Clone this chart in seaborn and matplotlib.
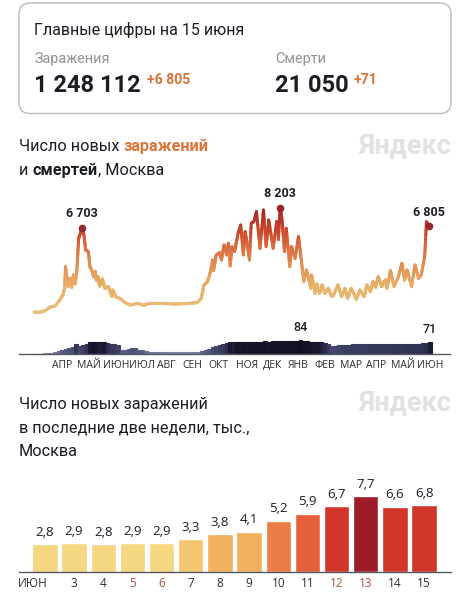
import numpy as np
import pandas as pd
import seaborn as sns
import matplotlib
matplotlib.use("Agg")
import matplotlib.pyplot as plt
from matplotlib.collections import LineCollection
from matplotlib.colors import LinearSegmentedColormap, Normalize
from matplotlib.patches import FancyBboxPatch
from matplotlib.transforms import ScaledTranslation

sns.set_theme(style="white")
plt.rcParams['font.family'] = ['Roboto', 'DejaVu Sans']

# ---- data -------------------------------------------------------------
case_days = [0,7,12,18,24,29,33,35,36,39,41,43,45,47,49,51,52,55,57,59,62,64,66,68,70,71,73,75,78,81,85,89,90,94,98,104,110,115,119,125,132,144,159,174,186,191,194,198,201,204,205,208,212,214,217,220,222,224,226,229,233,236,239,241,243,246,248,251,254,258,262,265,268,273,277,278,279,281,283,286,288,292,294,298,302,306,308,311,313,316,317,321,323,326,329,332,336,340,342,347,351,355,358,362,365,368,372,377,380,384,387,390,393,397,401,403,407,411,416,420,423,426,431,435,439,442,446,448,451]
case_vals = [375,375,450,725,825,1225,1650,2150,3775,2275,2900,2225,3150,2475,3525,5900,6075,6703,6150,5025,4900,3725,3525,3025,3400,2775,3025,2325,2850,2150,2275,1525,2025,1475,1400,1075,900,975,1025,875,1025,1025,975,1000,1075,1400,2400,2650,3275,4275,3475,4650,4825,4275,5400,4650,5525,3825,5275,4900,6275,6900,4650,6400,5650,4275,7025,7150,7900,5150,8025,5275,7275,5150,7150,7000,5800,8203,7400,4900,6650,3775,5275,4400,6025,3775,2650,3525,3025,2150,3150,1775,2475,1775,2400,1775,2150,1525,1650,2400,1525,2150,1400,2150,1775,1325,2025,1525,2400,1900,2650,2225,3025,2275,2775,2150,3475,2275,3025,4025,2775,3525,2275,3900,2900,3150,4525,7150,6805]
case_peak_days = [55, 281, 451]
case_peak_vals = [6703, 8203, 6805]
case_peak_text = ["6 703", "8 203", "6 805"]

death_vals = [0,0,1,4,6,8,10,16,22,28,34,42,60,48,56,62,72,74,72,70,72,66,60,58,54,22,24,30,36,34,26,24,16,14,12,12,11,10,10,10,10,10,10,10,10,10,10,12,18,24,30,44,50,56,58,66,72,70,74,72,74,72,74,74,74,74,76,74,76,76,76,76,76,78,78,80,84,78,76,74,72,72,70,66,58,50,50,52,54,56,56,58,58,58,58,58,60,60,60,60,60,60,60,62,62,60,62,62,62,62,62,64,66,71]
death_peak_days = [304, 452]
death_peak_vals = [84, 71]
month_days = [32,63,94,123,151,181,211,243,272,301,332,362,390,421,452]
month_labels = ["АПР","МАЙ","ИЮН","ИЮЛ","АВГ","СЕН","ОКТ","НОЯ","ДЕК","ЯНВ","ФЕВ","МАР","АПР","МАЙ","ИЮН"]

bar_days = ["ИЮН","3","4","5","6","7","8","9","10","11","12","13","14","15"]
bar_vals = [2.8,2.9,2.8,2.9,2.9,3.3,3.8,4.1,5.2,5.9,6.7,7.7,6.6,6.8]
bar_colors = ["#F5D782","#F5D782","#F5D782","#F5D782","#F5D782","#F2C56E","#EFB15C","#EFB15C",
              "#EB7C46","#E5603A","#D2352A","#9C1C28","#D2352A","#D2352A"]
weekend_labels = ["5","6","12","13"]

W, H = 470, 600
fig = plt.figure(figsize=(W/100, H/100), dpi=100, facecolor="white")

def box(x0, y0, x1, y1):
    return [x0/W, 1-y1/H, (x1-x0)/W, (y1-y0)/H]

def txt(x, y, s, **kw):
    kw.setdefault("va", "center")
    return fig.text(x/W, 1-y/H, s, **kw)

def chain(prev, s, **kw):
    return plt.annotate(
        s, xy=(1, 0), xycoords=prev, xytext=(0, 0), textcoords="offset points",
        va="bottom", annotation_clip=False, **kw)

DARK = "#1b1d26"
ORANGE = "#D9743A"
TITLE = 11.7

# ---- header card --------------------------------------------------------
bg = fig.add_axes([0, 0, 1, 1], zorder=-1)
bg.set_xlim(0, W); bg.set_ylim(H, 0); bg.axis("off")
bg.add_patch(FancyBboxPatch((19, 3), 432, 110.5, boxstyle="round,pad=0,rounding_size=11",
                            fc="white", ec="#b9bbbe", lw=1))

txt(34.5, 29.5, "Главные цифры на 15 июня", fontsize=11.5, color=DARK)
txt(34.5, 59, "Заражения", fontsize=10.4, color="#8f9296")
txt(275, 59, "Смерти", fontsize=10.4, color="#8f9296")
txt(34.5, 85.5, "1 248 112", fontsize=17, fontweight="bold", color=DARK)
txt(275, 85.5, "21 050", fontsize=17, fontweight="bold", color=DARK)
txt(147, 80, "+6 805", fontsize=10.2, fontweight="bold", color=ORANGE)
txt(354, 80, "+71", fontsize=10.2, fontweight="bold", color=ORANGE)

# ---- titles ---------------------------------------------------------------
t = txt(19, 146, "Число новых ", fontsize=TITLE, color=DARK, va="baseline")
t.set_y(1-151/H)
chain(t, "заражений", fontsize=TITLE, fontweight="bold", color=ORANGE)
t = txt(19, 175, "и ", fontsize=TITLE, color=DARK, va="baseline")
t.set_y(1-175/H)
t2 = chain(t, "смертей", fontsize=TITLE, fontweight="bold", color=DARK)
chain(t2, ", Москва", fontsize=TITLE, color=DARK)
txt(19, 404, "Число новых заражений", fontsize=TITLE, color=DARK)
txt(19, 428, "в последние две недели, тыс.,", fontsize=TITLE, color=DARK)
txt(19, 452, "Москва", fontsize=TITLE, color=DARK)
for y in (146, 403):
    txt(451, y, "Яндекс", fontsize=19.5, fontweight="bold", color="#e1e1e1", ha="right")

# ---- line chart ------------------------------------------------------------
ax = fig.add_axes(box(19, 180, 450, 317))
ax.patch.set_alpha(0)
df = pd.DataFrame({"day": case_days, "cases": case_vals})
sns.lineplot(data=df, x="day", y="cases", ax=ax, color="#E8AE62", lw=2.1, errorbar=None)
cmap = LinearSegmentedColormap.from_list("cases", [
    (0, "#EBC07E"), (0.28, "#E9B268"), (0.5, "#E38A50"),
    (0.65, "#DC6A3F"), (0.8, "#C8432F"), (1, "#A02828")])
norm = Normalize(0, 8203)
# split every drawn segment so that the stroke shades with its height
xs, ys = [], []
for i in range(len(case_days)-1):
    f = np.linspace(0, 1, 9)[:-1]
    xs.extend(case_days[i] + f*(case_days[i+1]-case_days[i]))
    ys.extend(case_vals[i] + f*(case_vals[i+1]-case_vals[i]))
xs.append(case_days[-1]); ys.append(case_vals[-1])
pts = np.column_stack([xs, ys])
segs = np.stack([pts[:-1], pts[1:]], axis=1)
lc = LineCollection(segs, cmap=cmap, norm=norm, lw=2.1, capstyle="round")
lc.set_array((pts[:-1, 1]+pts[1:, 1])/2)
ax.add_collection(lc)
sns.scatterplot(x=case_peak_days, y=case_peak_vals, ax=ax, color="#97262B", s=30, lw=0, zorder=5)
for d, v, s in zip(case_peak_days, case_peak_vals, case_peak_text):
    ax.annotate(s, (d, v), xytext=(0, 10), textcoords="offset points", ha="center", va="center",
                fontsize=9, fontweight="bold", color=DARK, annotation_clip=False)
ax.set_xlim(-17.1, 474.9)
ax.set_ylim(0, 10275)
ax.axis("off")

# ---- deaths strip -------------------------------------------------------------
ax2 = fig.add_axes(box(19, 320, 450, 354))
ax2.patch.set_alpha(0)
death_days = np.arange(len(death_vals))*4
dcmap = LinearSegmentedColormap.from_list("deaths", [
    (0, "#9a9db3"), (0.24, "#5b5f86"), (0.6, "#43476f"), (0.79, "#2b2d4a"), (0.87, "#14162a"), (1, "#0e0f1c")])
dn = Normalize(0, 84)
death_colors = [dcmap(dn(v)) for v in death_vals]
dd = pd.DataFrame({"day": death_days, "deaths": death_vals})
sns.barplot(data=dd, x="day", y="deaths", hue="day", palette=death_colors, legend=False,
            native_scale=True, width=1, ax=ax2, dodge=False, saturation=1, errorbar=None)
for p in ax2.patches:
    p.set_edgecolor(p.get_facecolor())
    p.set_linewidth(0.8)
ax2.set_xlim(-17.1, 474.9)
ax2.set_ylim(0, 204)
ax2.set_xlabel(""); ax2.set_ylabel(""); ax2.set_yticks([])
ax2.set_xticks(month_days, month_labels, fontsize=7.5, color="#2b2d33", family=["Open Sans", "DejaVu Sans"])
ax2.tick_params(axis="x", length=0, pad=4)
sns.despine(ax=ax2, left=True)
ax2.spines["bottom"].set_color("#55575c"); ax2.spines["bottom"].set_linewidth(1)
for d, v in zip(death_peak_days, death_peak_vals):
    ax2.annotate(str(v), (d, v), xytext=(0, 9), textcoords="offset points", ha="center", va="center",
                 fontsize=9, fontweight="medium", color=DARK)

# ---- daily bars ------------------------------------------------------------
ax3 = fig.add_axes(box(19, 480, 451, 571.7))
ax3.patch.set_alpha(0)
bd = pd.DataFrame({"day": bar_days, "value": bar_vals})
sns.barplot(data=bd, x="day", y="value", hue="day", palette=bar_colors, legend=False,
            width=0.87, ax=ax3, saturation=1, errorbar=None)
ax3.set_xlim(-0.89, 13.925)
ax3.set_ylim(0, 9.36)
ax3.set_xlabel(""); ax3.set_ylabel(""); ax3.set_yticks([])
for c in ax3.containers:
    ax3.bar_label(c, fmt=lambda v: f"{v:.1f}".replace(".", ","), padding=4, fontsize=9.5, color=DARK,
                  family=["Open Sans", "DejaVu Sans"])
ax3.tick_params(axis="x", length=0, pad=4, labelsize=8.5)
for lab in ax3.get_xticklabels():
    lab.set_family(["Open Sans", "DejaVu Sans"])
    lab.set_color("#B0503F" if lab.get_text() in weekend_labels else "#2b2d33")
first = ax3.get_xticklabels()[0]
first.set_transform(first.get_transform() + ScaledTranslation(-12.4/100, 0, fig.dpi_scale_trans))
sns.despine(ax=ax3, left=True)
ax3.spines["bottom"].set_color("#55575c"); ax3.spines["bottom"].set_linewidth(1)

fig.savefig("out.png", dpi=100, facecolor="white")
